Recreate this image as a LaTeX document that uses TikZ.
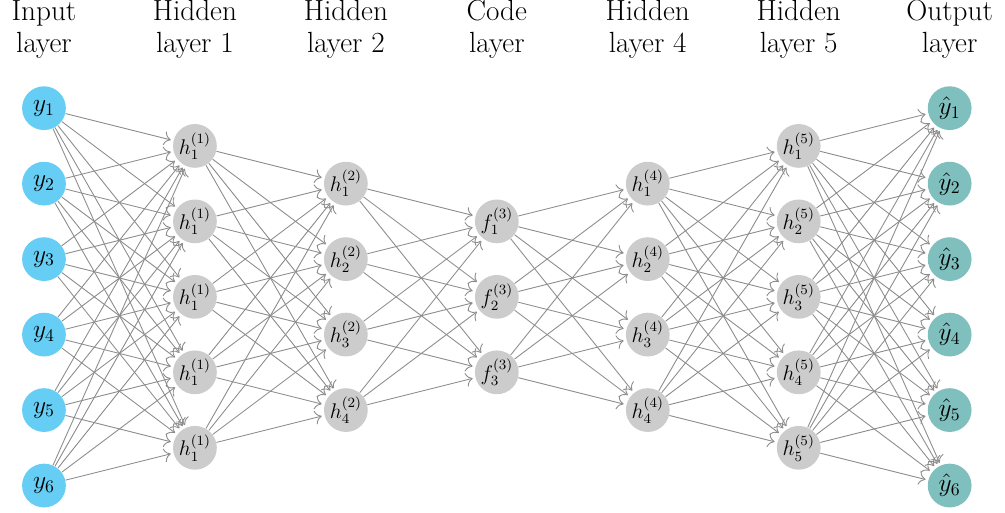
\documentclass[tikz,border=0pt]{standalone}
\usepackage{amsmath}
\usepackage{amssymb}
\usepackage{tikz}
\usetikzlibrary{arrows}
\usetikzlibrary{arrows.meta}
\usetikzlibrary{positioning}
\definecolor{mblue}{RGB}{102, 206, 245}
\definecolor{mteal}{RGB}{127, 191, 190}
\definecolor{mgray}{RGB}{204, 204, 204}
\definecolor{mline}{RGB}{140, 140, 140}

\tikzset{
  neuron/.style={circle, minimum size=0.87cm, inner sep=0pt},
  inneuron/.style={neuron, fill=mblue, font=\Large},
  hidneuron/.style={neuron, fill=mgray, font=\large},
  outneuron/.style={neuron, fill=mteal, font=\Large},
  layername/.style={anchor=base, align=center, font=\fontsize{16.5}{18}\selectfont},
  conn/.style={-{To[scale=1.4]}, mline, line width=0.5pt, shorten >=1.5pt}
}

\begin{document}
\begin{tikzpicture}
      \useasboundingbox (-0.874, -4.29) rectangle (19.10, 5.90);

      \node [layername] (ln0) at (0, 4.85) {Input\\layer};
      \node [layername] (ln1) at (3, 4.85) {Hidden\\layer 1};
      \node [layername] (ln2) at (6, 4.85) {Hidden\\layer 2};
      \node [layername] (ln3) at (9, 4.85) {Code\\layer};
      \node [layername] (ln4) at (12, 4.85) {Hidden\\layer 4};
      \node [layername] (ln5) at (15, 4.85) {Hidden\\layer 5};
      \node [layername] (ln6) at (18, 4.85) {Output\\layer};

      \node [inneuron] (i1) at (0, 3.75) {$y_1$};
      \node [inneuron] (i2) at (0, 2.25) {$y_2$};
      \node [inneuron] (i3) at (0, 0.75) {$y_3$};
      \node [inneuron] (i4) at (0, -0.75) {$y_4$};
      \node [inneuron] (i5) at (0, -2.25) {$y_5$};
      \node [inneuron] (i6) at (0, -3.75) {$y_6$};

      \node [hidneuron] (a1) at (3, 3) {$h_1^{(1)}$};
      \node [hidneuron] (a2) at (3, 1.5) {$h_1^{(1)}$};
      \node [hidneuron] (a3) at (3, 0) {$h_1^{(1)}$};
      \node [hidneuron] (a4) at (3, -1.5) {$h_1^{(1)}$};
      \node [hidneuron] (a5) at (3, -3) {$h_1^{(1)}$};

      \node [hidneuron] (b1) at (6, 2.25) {$h_1^{(2)}$};
      \node [hidneuron] (b2) at (6, 0.75) {$h_2^{(2)}$};
      \node [hidneuron] (b3) at (6, -0.75) {$h_3^{(2)}$};
      \node [hidneuron] (b4) at (6, -2.25) {$h_4^{(2)}$};

      \node [hidneuron] (c1) at (9, 1.5) {$f_1^{(3)}$};
      \node [hidneuron] (c2) at (9, 0) {$f_2^{(3)}$};
      \node [hidneuron] (c3) at (9, -1.5) {$f_3^{(3)}$};

      \node [hidneuron] (d1) at (12, 2.25) {$h_1^{(4)}$};
      \node [hidneuron] (d2) at (12, 0.75) {$h_2^{(4)}$};
      \node [hidneuron] (d3) at (12, -0.75) {$h_3^{(4)}$};
      \node [hidneuron] (d4) at (12, -2.25) {$h_4^{(4)}$};

      \node [hidneuron] (e1) at (15, 3) {$h_1^{(5)}$};
      \node [hidneuron] (e2) at (15, 1.5) {$h_2^{(5)}$};
      \node [hidneuron] (e3) at (15, 0) {$h_3^{(5)}$};
      \node [hidneuron] (e4) at (15, -1.5) {$h_4^{(5)}$};
      \node [hidneuron] (e5) at (15, -3) {$h_5^{(5)}$};

      \node [outneuron] (o1) at (18, 3.75) {$\hat{y}_1$};
      \node [outneuron] (o2) at (18, 2.25) {$\hat{y}_2$};
      \node [outneuron] (o3) at (18, 0.75) {$\hat{y}_3$};
      \node [outneuron] (o4) at (18, -0.75) {$\hat{y}_4$};
      \node [outneuron] (o5) at (18, -2.25) {$\hat{y}_5$};
      \node [outneuron] (o6) at (18, -3.75) {$\hat{y}_6$};

      % fully connected layers
      \foreach \s in {1,...,6}
        \foreach \t in {1,...,5}
          \draw [conn] (i\s) -- (a\t);
      \foreach \s in {1,...,5}
        \foreach \t in {1,...,4}
          \draw [conn] (a\s) -- (b\t);
      \foreach \s in {1,...,4}
        \foreach \t in {1,...,3}
          \draw [conn] (b\s) -- (c\t);
      \foreach \s in {1,...,3}
        \foreach \t in {1,...,4}
          \draw [conn] (c\s) -- (d\t);
      \foreach \s in {1,...,4}
        \foreach \t in {1,...,5}
          \draw [conn] (d\s) -- (e\t);
      \foreach \s in {1,...,5}
        \foreach \t in {1,...,6}
          \draw [conn] (e\s) -- (o\t);
    \end{tikzpicture}
\end{document}
